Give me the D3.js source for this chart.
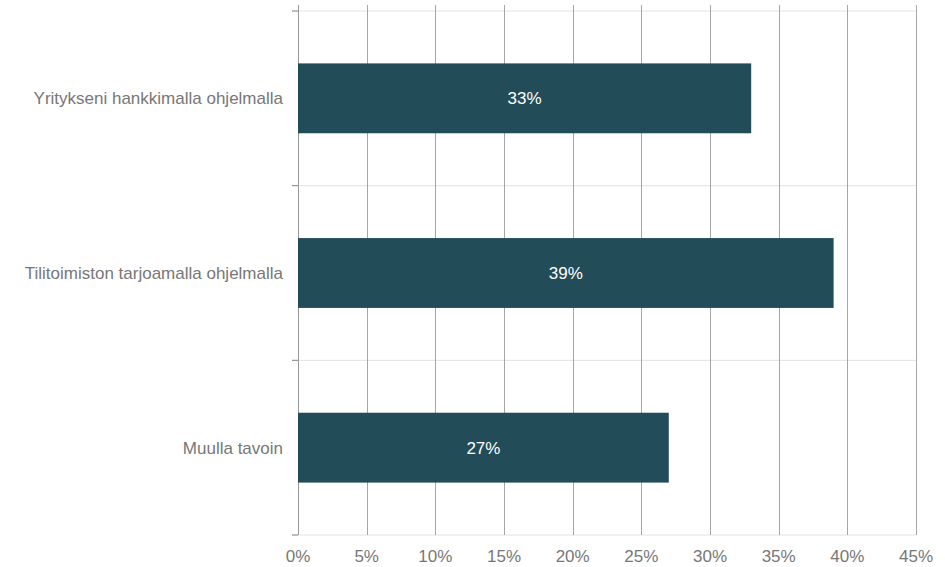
<!DOCTYPE html>
<head>
  <meta charset="utf-8" />
  <script src="https://d3js.org/d3.v7.min.js"></script>
  <style>
    body { margin: 0; background: #fff; }
    text { font-family: "Liberation Sans", Arial, sans-serif; }
  </style>
</head>
<body>
  <script>
    var categories = ["Yritykseni hankkimalla ohjelmalla", "Tilitoimiston tarjoamalla ohjelmalla", "Muulla tavoin"];
    var values = [33, 39, 27];
    var xTicks = [0, 5, 10, 15, 20, 25, 30, 35, 40, 45];

    var width = 945, height = 567;
    var margin = { top: 11, right: 29, bottom: 32, left: 298 };
    var innerW = width - margin.left - margin.right,
      innerH = height - margin.top - margin.bottom;

    var svg = d3.select("body").append("svg")
      .attr("width", width).attr("height", height);
    var g = svg.append("g").attr("transform", "translate(" + margin.left + "," + margin.top + ")");

    var x = d3.scaleLinear().domain([0, 45]).range([0, innerW]);
    var y = d3.scaleBand().domain(categories).range([0, innerH]).paddingInner(0.6).paddingOuter(0.3);

    // horizontal category separators
    g.selectAll(".sep")
      .data(d3.range(categories.length + 1))
      .join("line")
      .attr("x1", -6).attr("x2", innerW)
      .attr("y1", d => d * innerH / categories.length)
      .attr("y2", d => d * innerH / categories.length)
      .attr("stroke", "#e3e3e3");

    // left ticks
    g.selectAll(".ltick")
      .data(d3.range(categories.length + 1))
      .join("line")
      .attr("x1", -6).attr("x2", 0)
      .attr("y1", d => d * innerH / categories.length)
      .attr("y2", d => d * innerH / categories.length)
      .attr("stroke", "#888");

    // vertical gridlines
    g.selectAll(".grid")
      .data(xTicks)
      .join("line")
      .attr("x1", d => Math.round(x(d)) + 0.5).attr("x2", d => Math.round(x(d)) + 0.5)
      .attr("y1", -6).attr("y2", innerH)
      .attr("stroke", d => d === 0 ? "#999" : "#a6a6a6");

    // bars
    g.selectAll(".bar")
      .data(values)
      .join("rect")
      .attr("x", 0)
      .attr("y", (d, i) => y(categories[i]))
      .attr("width", d => x(d))
      .attr("height", y.bandwidth())
      .attr("fill", "#234c59");

    g.selectAll(".val")
      .data(values)
      .join("text")
      .attr("x", d => x(d) / 2)
      .attr("y", (d, i) => y(categories[i]) + y.bandwidth() / 2)
      .attr("dy", "0.35em")
      .attr("text-anchor", "middle")
      .attr("fill", "#fff")
      .attr("font-size", 17)
      .text(d => d + "%");

    // category labels
    g.selectAll(".cat")
      .data(categories)
      .join("text")
      .attr("x", -15)
      .attr("y", d => y(d) + y.bandwidth() / 2)
      .attr("dy", "0.35em")
      .attr("text-anchor", "end")
      .attr("fill", "#777")
      .attr("font-size", 17)
      .text(d => d);

    // x tick labels
    g.selectAll(".xl")
      .data(xTicks)
      .join("text")
      .attr("x", d => x(d))
      .attr("y", innerH + 21)
      .attr("dy", "0.35em")
      .attr("text-anchor", "middle")
      .attr("fill", "#777")
      .attr("font-size", 17)
      .text(d => d + "%");
  </script>
</body>
